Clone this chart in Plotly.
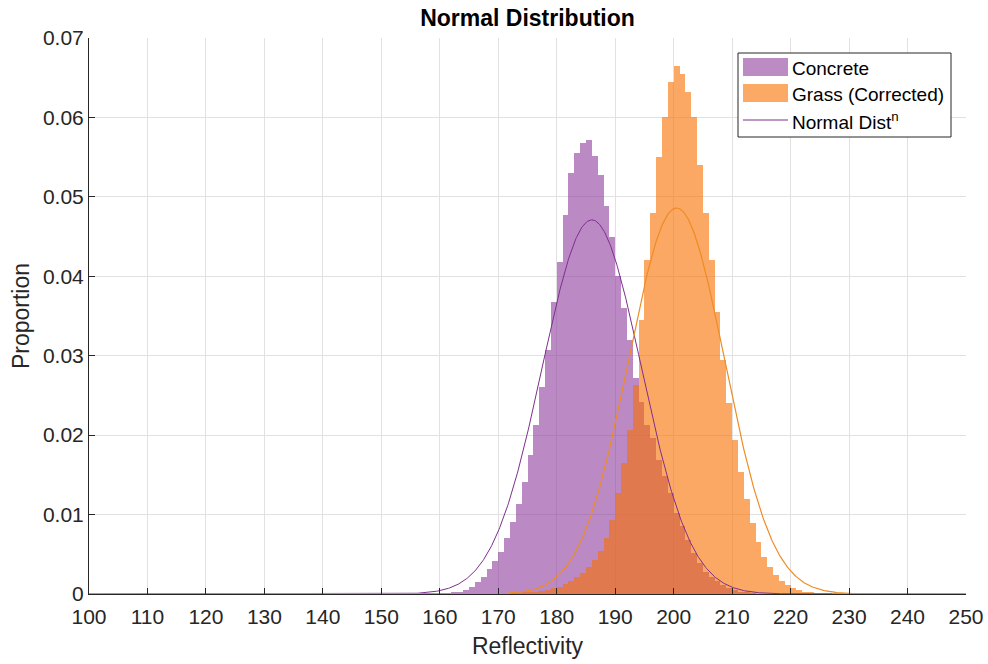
import numpy as np
import plotly.graph_objects as go

# ---- data (bin width 1, left edges) ----
concrete_edges = list(range(160, 214))
concrete_vals = [0.00005, 0.0001, 0.0002, 0.0003, 0.0005, 0.0009, 0.0015, 0.0022, 0.0032, 0.0041,
                 0.0053, 0.0070, 0.0091, 0.0113, 0.0141, 0.0175, 0.0213, 0.0261, 0.0307, 0.0368,
                 0.0418, 0.0477, 0.0530, 0.0555, 0.0568, 0.0572, 0.0552, 0.0527, 0.0488, 0.0450,
                 0.0400, 0.0360, 0.0320, 0.0272, 0.0242, 0.0213, 0.0196, 0.0169, 0.0148, 0.0127,
                 0.0102, 0.0085, 0.0068, 0.0051, 0.0039, 0.0028, 0.0022, 0.0016, 0.0011, 0.0007,
                 0.0005, 0.0003, 0.0002, 0.0001]

grass_edges = list(range(172, 227))
grass_vals = [0.0001, 0.0001, 0.0002, 0.0002, 0.0003, 0.0004, 0.0005, 0.0007, 0.0009, 0.0012,
              0.0016, 0.0021, 0.0027, 0.0034, 0.0043, 0.0054, 0.0070, 0.0093, 0.0127, 0.0165,
              0.0206, 0.0263, 0.0345, 0.0420, 0.0480, 0.0550, 0.0600, 0.0644, 0.0665, 0.0655,
              0.0632, 0.0601, 0.0540, 0.0480, 0.0420, 0.0355, 0.0295, 0.0240, 0.0194, 0.0154,
              0.0120, 0.0089, 0.0066, 0.0047, 0.0034, 0.0024, 0.0016, 0.0011, 0.0007, 0.0005,
              0.0003, 0.0002, 0.0001, 0.0001, 0.00005]

# fitted normal distribution parameters
concrete_mu, concrete_sigma = 186.0, 8.47
grass_mu, grass_sigma = 200.5, 8.21

x_ticks = list(range(100, 251, 10))
y_ticks = [0, 0.01, 0.02, 0.03, 0.04, 0.05, 0.06, 0.07]
y_tick_labels = ["0", "0.01", "0.02", "0.03", "0.04", "0.05", "0.06", "0.07"]

PURPLE = "rgb(143,62,157)"
PURPLE_LINE = "rgb(126,47,142)"
ORANGE = "rgb(250,112,0)"
ORANGE_LINE = "rgb(238,140,35)"
FONT = "Liberation Sans, Arial, sans-serif"
TXT = "rgb(38,38,38)"

xs = np.linspace(100, 250, 1201)

def npdf(x, mu, s):
    return np.exp(-0.5 * ((x - mu) / s) ** 2) / (s * np.sqrt(2 * np.pi))

fig = go.Figure()
fig.add_trace(go.Bar(x=[e + 0.5 for e in concrete_edges], y=concrete_vals, width=1,
                     marker=dict(color=PURPLE, line=dict(width=0)), opacity=0.6,
                     name="Concrete", showlegend=False))
fig.add_trace(go.Bar(x=[e + 0.5 for e in grass_edges], y=grass_vals, width=1,
                     marker=dict(color=ORANGE, line=dict(width=0)), opacity=0.6,
                     name="Grass (Corrected)", showlegend=False))
fig.add_trace(go.Scatter(x=xs, y=npdf(xs, concrete_mu, concrete_sigma), mode="lines",
                         line=dict(color=PURPLE_LINE, width=1), name="Normal Dist<sup>n</sup>",
                         showlegend=False))
fig.add_trace(go.Scatter(x=xs, y=npdf(xs, grass_mu, grass_sigma), mode="lines",
                         line=dict(color=ORANGE_LINE, width=1.2), showlegend=False))

# manual legend (MATLAB style)
def px2x(px):
    return (px - 89) / 877.0

def px2y(py):
    return (594 - py) / 556.0

shapes = []
shapes.append(dict(type="rect", xref="paper", yref="paper", x0=px2x(738), x1=px2x(951),
                   y0=px2y(137), y1=px2y(53), line=dict(color="rgb(38,38,38)", width=1),
                   fillcolor="white", layer="above"))
shapes.append(dict(type="rect", xref="paper", yref="paper", x0=px2x(743), x1=px2x(788),
                   y0=px2y(76), y1=px2y(58), line=dict(width=0), fillcolor=PURPLE,
                   opacity=0.6, layer="above"))
shapes.append(dict(type="rect", xref="paper", yref="paper", x0=px2x(743), x1=px2x(788),
                   y0=px2y(102), y1=px2y(84), line=dict(width=0), fillcolor=ORANGE,
                   opacity=0.6, layer="above"))
shapes.append(dict(type="line", xref="paper", yref="paper", x0=px2x(743), x1=px2x(788),
                   y0=px2y(120), y1=px2y(120), line=dict(color=PURPLE_LINE, width=1), layer="above"))

annotations = []
for label, py in [("Concrete", 68), ("Grass (Corrected)", 94), ("Normal Dist<sup>n</sup>", 121)]:
    annotations.append(dict(text=label, xref="paper", yref="paper", x=px2x(790), y=px2y(py),
                            xanchor="left", yanchor="middle", showarrow=False,
                            font=dict(family=FONT, size=19, color="black")))

fig.update_layout(
    width=988, height=664,
    margin=dict(l=89, r=22, t=38, b=70),
    paper_bgcolor="white", plot_bgcolor="white",
    barmode="overlay", bargap=0,
    font=dict(family=FONT, size=21, color=TXT),
    title=dict(text="<b>Normal Distribution</b>", x=(89 + 966) / 2 / 988, xanchor="center",
               y=1 - 18 / 664, yanchor="middle", yref="container",
               font=dict(family=FONT, size=23, color="black")),
    shapes=shapes, annotations=annotations,
)
fig.update_xaxes(range=[100, 250], tickvals=x_ticks, ticktext=[str(t) for t in x_ticks],
                 showgrid=True, gridcolor="rgb(225,225,225)", gridwidth=1,
                 showline=True, linecolor="rgb(38,38,38)", linewidth=1,
                 ticks="inside", ticklen=6, tickcolor="rgb(38,38,38)",
                 zeroline=False, mirror=False, automargin=False, ticklabelstandoff=4,
                 title=dict(text="Reflectivity", standoff=10, font=dict(size=23, color=TXT)),
                 tickfont=dict(size=21, color=TXT))
fig.update_yaxes(range=[0, 0.07], tickvals=y_ticks, ticktext=y_tick_labels,
                 showgrid=True, gridcolor="rgb(225,225,225)", gridwidth=1,
                 showline=True, linecolor="rgb(38,38,38)", linewidth=1,
                 ticks="inside", ticklen=6, tickcolor="rgb(38,38,38)",
                 zeroline=False, mirror=False, automargin=False,
                 title=dict(text="Proportion", standoff=6, font=dict(size=23, color=TXT)),
                 tickfont=dict(size=21, color=TXT))

fig.write_html("out.html")
